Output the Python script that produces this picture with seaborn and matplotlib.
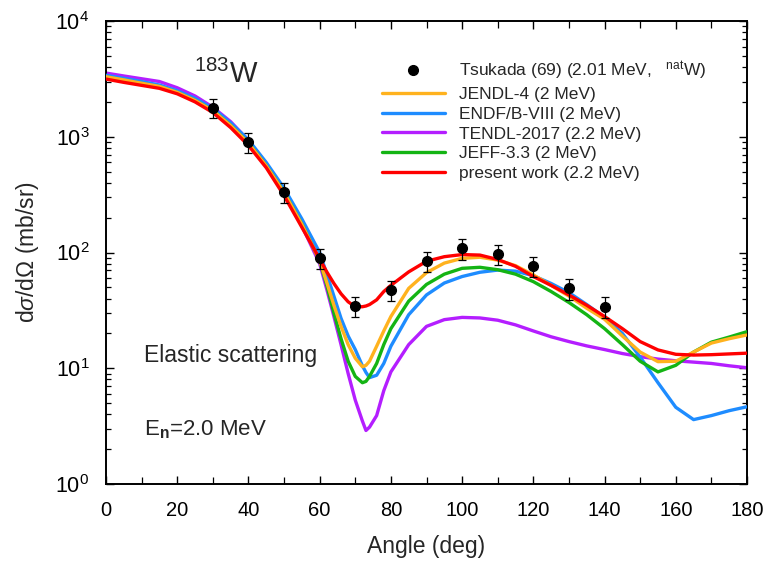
import numpy as np
import pandas as pd
import matplotlib
matplotlib.use("Agg")
import matplotlib.pyplot as plt
from matplotlib.lines import Line2D
import seaborn as sns
from matplotlib.ticker import MultipleLocator, LogLocator, NullFormatter

# ---------------- data ----------------
angles = [0, 5, 10, 15, 20, 25, 30, 35, 40, 45, 50, 55, 60, 62, 64, 66, 68, 70,
          72, 73, 74, 76, 78, 80, 85, 90, 95, 100, 105, 110, 115, 120, 125, 130,
          135, 140, 145, 150, 155, 160, 165, 170, 175, 180]

present_work = [3150, 2950, 2780, 2620, 2350, 2000, 1620, 1200, 840, 540, 310, 165, 88, 68, 54, 44, 37.5, 34,
                34, 34.5, 35.5, 39, 46, 52, 68, 84, 92, 96, 95, 87, 76, 62, 52, 43,
                35, 28, 22, 17, 14.4, 13.2, 13, 13.1, 13.3, 13.5]
jendl4 = [3300, 3100, 2900, 2720, 2420, 2060, 1680, 1250, 880, 560, 330, 175, 85, 55, 35, 23, 16, 12.2,
          10.3, 10.6, 11.5, 15.5, 21, 28, 49, 67, 81, 89, 91, 86, 77, 64, 52, 42,
          33, 26.5, 19, 13.8, 11.4, 11.5, 13.8, 16.5, 18, 19.4]
jeff33 = [3250, 3050, 2850, 2680, 2400, 2050, 1680, 1250, 880, 560, 330, 175, 85, 52, 30, 18, 11.5, 8.5,
          7.5, 7.7, 8.5, 11, 16, 22, 38, 53, 65, 73, 74.5, 71, 65, 56, 46, 37,
          29, 22, 16, 11.5, 9.3, 10.6, 13.8, 16.8, 18.6, 20.7]
endfb8 = [3400, 3200, 3000, 2800, 2500, 2150, 1760, 1320, 940, 600, 360, 195, 100, 65, 42, 27, 19, 14.5,
          10.5, 9.2, 8.3, 8.7, 11, 15.5, 29, 43, 54.5, 62, 67.5, 70.5, 69, 63, 54, 45,
          35.5, 27.5, 20, 12.5, 7.5, 4.6, 3.6, 3.9, 4.3, 4.65]
tendl2017 = [3550, 3350, 3170, 3000, 2650, 2250, 1800, 1350, 930, 580, 330, 170, 80, 48, 28, 16, 9, 5.3,
             3.5, 2.9, 3.1, 3.9, 6.4, 9.3, 16, 23, 26.3, 27.5, 27.2, 26, 23.7, 21, 18.7, 17,
             15.6, 14.5, 13.4, 12.6, 12, 11.6, 11.3, 11, 10.5, 10.1]

exp_angles = [30, 40, 50, 60, 70, 80, 90, 100, 110, 120, 130, 140]
exp_values = [1780, 900, 333, 90, 34.5, 47.5, 84.5, 109, 97, 76, 49, 34]
exp_errors = [340, 175, 65, 18, 7, 9.5, 17, 22, 19, 15, 10, 7]

series_names = ["JENDL-4 (2 MeV)", "ENDF/B-VIII (2 MeV)", "TENDL-2017 (2.2 MeV)",
                "JEFF-3.3 (2 MeV)", "present work (2.2 MeV)"]
series_values = [jendl4, endfb8, tendl2017, jeff33, present_work]
series_colors = ["#FFB21E", "#1E8CFF", "#B41EFF", "#14B414", "#FF0000"]
exp_label = r"Tsukada (69) (2.01 MeV,   $^{\rm nat}$W)"

# ---------------- plot ----------------
sns.set_theme(style="ticks")
plt.rcParams["font.family"] = ["Liberation Sans", "DejaVu Sans"]
plt.rcParams["mathtext.fontset"] = "custom"
plt.rcParams["mathtext.rm"] = "Liberation Sans"
plt.rcParams["mathtext.it"] = "Liberation Sans:italic"
plt.rcParams["mathtext.bf"] = "Liberation Sans:bold"

fig = plt.figure(figsize=(7.75, 5.64), dpi=100)
ax = fig.add_axes([106 / 775, 1 - 484 / 564, 641 / 775, 463 / 564])

frames = []
for name, vals in zip(series_names, series_values):
    frames.append(pd.DataFrame({"angle": angles, "value": vals, "series": name}))
df = pd.concat(frames, ignore_index=True)

draw_order = ["TENDL-2017 (2.2 MeV)", "ENDF/B-VIII (2 MeV)", "JEFF-3.3 (2 MeV)",
              "JENDL-4 (2 MeV)", "present work (2.2 MeV)"]
palette = dict(zip(series_names, series_colors))
for z, name in enumerate(draw_order):
    sub = df[df["series"] == name]
    sns.lineplot(data=sub, x="angle", y="value", color=palette[name], linewidth=2.4,
                 ax=ax, label=name, zorder=2 + z, sort=False)

ax.errorbar(exp_angles, exp_values, yerr=exp_errors, fmt="o", color="black",
            markersize=7, ecolor="black", elinewidth=0.9, capsize=3, capthick=0.9,
            zorder=10)

ax.set_yscale("log")
ax.set_xlim(0, 180)
ax.set_ylim(1, 1e4)

ax.xaxis.set_major_locator(MultipleLocator(20))
ax.xaxis.set_minor_locator(MultipleLocator(10))
ax.yaxis.set_major_locator(LogLocator(base=10, numticks=10))
ax.yaxis.set_minor_locator(LogLocator(base=10, subs=np.arange(2, 10), numticks=50))
ax.yaxis.set_minor_formatter(NullFormatter())
ax.tick_params(which="both", direction="in", top=True, right=True, colors="black")
ax.tick_params(which="major", length=6, width=1.0)
ax.tick_params(axis="x", which="major", labelsize=14.5, pad=12)
ax.tick_params(axis="y", which="major", labelsize=15.5, pad=12)
ax.tick_params(which="minor", length=3.5, width=0.9)
ax.tick_params(axis="x", which="minor", top=True, length=5)
for sp in ax.spines.values():
    sp.set_linewidth(1.4)
    sp.set_color("black")

ax.set_xlabel("Angle (deg)", fontsize=16.5, labelpad=11)
ax.set_ylabel(r"d$\sigma$/d$\Omega$ (mb/sr)", fontsize=16.5, labelpad=10)

ax.text(0.138, 0.885, r"$^{183}$W", transform=ax.transAxes, fontsize=21, va="center")
ax.text(0.06, 0.278, "Elastic scattering", transform=ax.transAxes, fontsize=16.5, va="center")
ax.text(0.06, 0.118, r"E$_{\mathbf{n}}$=2.0 MeV", transform=ax.transAxes, fontsize=16, va="center")

handles, labels = ax.get_legend_handles_labels()
hmap = dict(zip(labels, handles))
exp_handle = Line2D([], [], linestyle="none", marker="o", color="black", markersize=7)
leg_handles = [exp_handle] + [hmap[n] for n in series_names]
leg_labels = [exp_label] + series_names
ax.legend(leg_handles, leg_labels, loc="upper left", bbox_to_anchor=(0.42, 0.932),
          frameon=False, fontsize=12.5, handlelength=3.6, labelspacing=0.27,
          handletextpad=0.8, borderaxespad=0)

fig.savefig("out.png", dpi=100)
